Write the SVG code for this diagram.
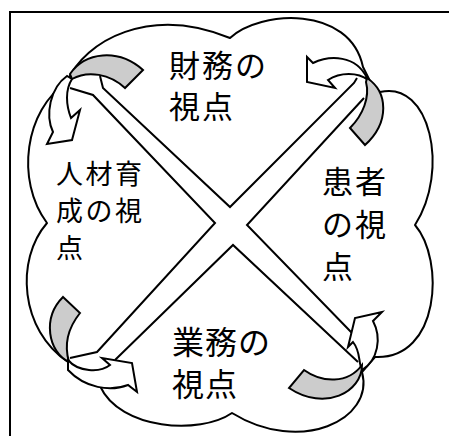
<svg xmlns="http://www.w3.org/2000/svg" width="449" height="436" viewBox="0 0 449 436">
<style>
.frame{fill:none;stroke:#000;stroke-width:2}
.cloud{fill:#fff;stroke:#000;stroke-width:2;stroke-linejoin:round}
.xl{fill:none;stroke:#000;stroke-width:2;stroke-linejoin:miter}
.arw{fill:#fff;stroke:#000;stroke-width:2;stroke-linejoin:miter}
.back{fill:#cccccc;stroke:#000;stroke-width:2;stroke-linejoin:miter}
.t{font-family:"Noto Sans CJK JP","Noto Sans CJK SC",sans-serif;fill:#000}
.big{font-size:31px;letter-spacing:2px}
.sm{font-size:27px;letter-spacing:2.5px}
.bt{font-size:32px;letter-spacing:1px}
</style>
<rect width="449" height="436" fill="#fff"/>
<path class="frame" d="M10,440 V12 H449"/>
<g id="cloud">
<path class="cloud" d="M67,82 C85,40 150,5 230,38 C260,10 350,5 363,67 L372,85 L380,92 C430,80 450,170 415,225 C445,260 440,360 375,357 L362,372 C375,420 300,455 232,413 C200,435 120,430 100,386 L68,362 C20,330 15,260 47,223 C15,180 25,110 67,82 Z"/>
</g>
<g id="connectors">
<polyline class="xl" points="100,76 103,88 230,207 354,83 357,78"/>
<polyline class="xl" points="364,98 247,225 352,333"/>
<polyline class="xl" points="358,362 233,245 115,360"/>
<polyline class="xl" points="70,358 97,352 215,223 93,95 70,88"/>
</g>
<g id="arrow-tl">
<path class="arw" d="M67,76 C50,88 45,115 53,132 L47,144 L72,140 L80,110 L71,118 C66,105 65,90 72,79 Z"/>
<path class="back" d="M70,74 C85,52 118,48 143,70 L125,88 C110,74 88,70 72,79 Z"/>
</g>
<g id="arrow-tr">
<path class="arw" d="M367,78 C356,55 330,55 313,63 L307,57 L307,82 L335,88 L328,80 C340,72 358,72 368,80 Z"/>
<path class="back" d="M367,78 C388,92 390,122 365,145 L350,128 C363,115 370,97 366,82 Z"/>
</g>
<g id="arrow-br">
<path class="arw" d="M353,342 L348,347 L355,318 L382,312 L373,321 C382,338 378,360 362,370 C358,362 361,352 353,342 Z"/>
<path class="back" d="M304,370 C322,383 348,384 362,365 C362,392 325,412 289,388 Z"/>
</g>
<g id="arrow-bl">
<path class="back" d="M63,297 L80,313 C68,328 64,345 69,362 C48,352 42,318 63,297 Z"/>
<path class="arw" d="M68,360 C78,372 100,373 110,365 L102,358 L132,363 L137,392 L128,385 C110,392 85,388 68,370 Z"/>
</g>
<g id="node-finance">
<text class="t big" x="169" y="77">財務の</text>
<text class="t big" x="169" y="118">視点</text>
</g>
<g id="node-patient">
<text class="t big" x="322" y="193">患者</text>
<text class="t big" x="322" y="236">の視</text>
<text class="t big" x="322" y="278">点</text>
</g>
<g id="node-hr">
<text class="t sm" x="56" y="184">人材育</text>
<text class="t sm" x="56" y="221">成の視</text>
<text class="t sm" x="56" y="258">点</text>
</g>
<g id="node-ops">
<text class="t bt" x="172" y="354">業務の</text>
<text class="t bt" x="172" y="396">視点</text>
</g>
</svg>
